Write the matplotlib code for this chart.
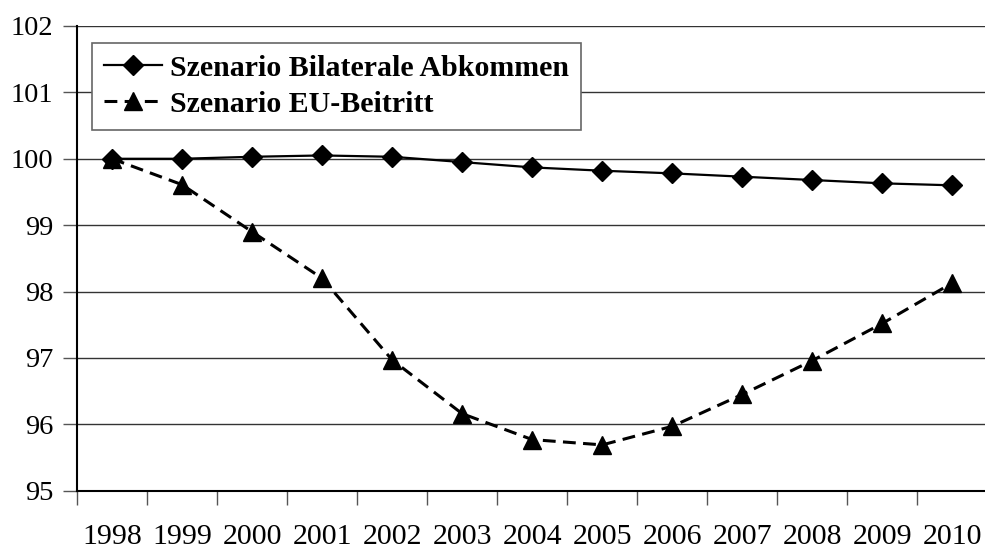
import matplotlib.pyplot as plt
import numpy as np

years = ['1998', '1999', '2000', '2001', '2002', '2003', '2004',
         '2005', '2006', '2007', '2008', '2009', '2010']
bilateral = [100.0, 100.0, 100.03, 100.05, 100.03, 99.95, 99.87,
             99.82, 99.78, 99.73, 99.68, 99.63, 99.60]
eu_beitritt = [100.0, 99.61, 98.9, 98.2, 96.97, 96.16, 95.77,
               95.69, 95.97, 96.45, 96.96, 97.52, 98.13]

plt.rcParams['font.family'] = ['Liberation Serif', 'DejaVu Serif']

fig = plt.figure(figsize=(9.85, 5.52), dpi=100)
ax = fig.add_axes([77 / 985, 61.3 / 552, 910.4 / 985, 464.7 / 552])

x = np.arange(len(years))
ax.plot(x, bilateral, color='black', lw=1.6, marker='D', ms=10,
        label='Szenario Bilaterale Abkommen', zorder=3)
ax.plot(x, eu_beitritt, color='black', lw=2.2, ls=(0, (4.2, 2.4)), marker='^', ms=13,
        label='Szenario EU-Beitritt', zorder=3)

ax.set_ylim(95, 102)
ax.set_xlim(-0.5, len(years) - 0.5)
ax.set_yticks(range(95, 103))
ax.set_xticks(x)
ax.set_xticklabels(years)
ax.set_xticks(np.arange(-0.5, len(years) - 0.5, 1), minor=True)
ax.tick_params(axis='x', which='major', length=0, pad=24, labelsize=21.5)
ax.tick_params(axis='x', which='minor', length=10, width=1, color='#555555')
ax.tick_params(axis='y', length=10, width=1, pad=7, labelsize=20.5, color='#555555')

ax.grid(axis='y', color='#333333', lw=1)
ax.set_axisbelow(True)
for s in ['top', 'right']:
    ax.spines[s].set_visible(False)
ax.spines['left'].set_linewidth(1.5)
ax.spines['bottom'].set_linewidth(1.5)

leg = ax.legend(loc='upper left', bbox_to_anchor=(92 / 985, 1 - 43 / 552),
                bbox_transform=fig.transFigure, borderaxespad=0, fancybox=False,
                edgecolor='#666666', framealpha=1, handlelength=1.95,
                handletextpad=0.25, borderpad=0.4, labelspacing=0.3,
                prop={'weight': 'bold', 'size': 21.5})
leg.get_frame().set_linewidth(1.2)

fig.savefig('out.png', dpi=100)
